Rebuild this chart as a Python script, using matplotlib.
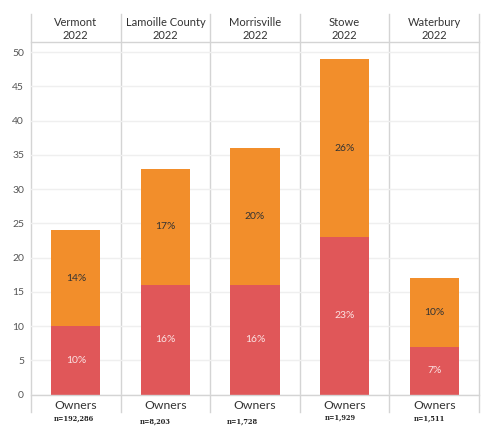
import matplotlib.pyplot as plt
from matplotlib.transforms import blended_transform_factory

places = ["Vermont", "Lamoille County", "Morrisville", "Stowe", "Waterbury"]
year = "2022"
red_vals = [10, 16, 16, 23, 7]
orange_vals = [14, 17, 20, 26, 10]
red_labels = ["10%", "16%", "16%", "23%", "7%"]
orange_labels = ["14%", "17%", "20%", "26%", "10%"]
n_labels = ["n=192,286", "n=8,203", "n=1,728", "n=1,929", "n=1,511"]

RED = "#e05759"
ORANGE = "#f28e2b"
LINE = "#d4d4d4"
GRID = "#efefef"
FONT = "Lato"

W, H = 500, 437
fig = plt.figure(figsize=(W / 100, H / 100), dpi=100)
# axes box in pixels: left 31, right 479, top 42, bottom 394.5
x0, x1, ytop, ybot = 31, 479, 42, 394.5
ax = fig.add_axes([x0 / W, 1 - ybot / H, (x1 - x0) / W, (ybot - ytop) / H])

xs = list(range(len(places)))
ax.bar(xs, red_vals, width=0.55, color=RED, zorder=3)
ax.bar(xs, orange_vals, width=0.55, bottom=red_vals, color=ORANGE, zorder=3)

for i in xs:
    ax.text(i, red_vals[i] / 2, red_labels[i], ha="center", va="center",
            color="#fbe3e3", fontsize=7.5, family=FONT, zorder=4)
    ax.text(i, red_vals[i] + orange_vals[i] / 2, orange_labels[i], ha="center",
            va="center", color="#333333", fontsize=7.5, family=FONT, zorder=4)

ax.set_xlim(-0.5, len(places) - 0.5)
ax.set_ylim(0, 51.5)
ax.set_yticks(range(0, 51, 5))
ax.set_xticks([])
ax.tick_params(axis="y", length=0, pad=5, labelsize=7.5, labelcolor="#555555")
for lab in ax.get_yticklabels():
    lab.set_family(FONT)
ax.yaxis.grid(True, color=GRID, lw=1, zorder=0)
for s in ax.spines.values():
    s.set_visible(False)

# panel separators, spanning header and footer rows
def px_y(y):
    return 1 - y / H

trans = blended_transform_factory(ax.transData, fig.transFigure)
for b in [i - 0.5 for i in range(len(places) + 1)]:
    ax.plot([b, b], [px_y(14), px_y(412)], color=LINE, lw=1, transform=trans,
            clip_on=False, zorder=1)
ax.plot([-0.5, len(places) - 0.5], [px_y(42), px_y(42)], color=LINE, lw=1,
        transform=trans, clip_on=False)
ax.plot([-0.5, len(places) - 0.5], [px_y(394.5), px_y(394.5)], color=LINE, lw=1,
        transform=trans, clip_on=False, zorder=5)

n_dx = [-0.02, -0.11, -0.14, -0.05, -0.05]
n_y = [419, 422, 422, 418, 419]
for i, name in enumerate(places):
    ax.text(i, px_y(29), name + "\n" + year, ha="center", va="center",
            fontsize=8, family=FONT, color="#333333", linespacing=1.2,
            transform=trans)
    ax.text(i, px_y(405.5), "Owners", ha="center", va="center", fontsize=8.8,
            family=FONT, color="#333333", transform=trans)
    ax.text(i + n_dx[i], px_y(n_y[i]), n_labels[i], ha="center", va="center",
            fontsize=4.8, family="DejaVu Serif", weight="bold", color="#222222",
            transform=trans)

fig.savefig("out.png", dpi=100)
